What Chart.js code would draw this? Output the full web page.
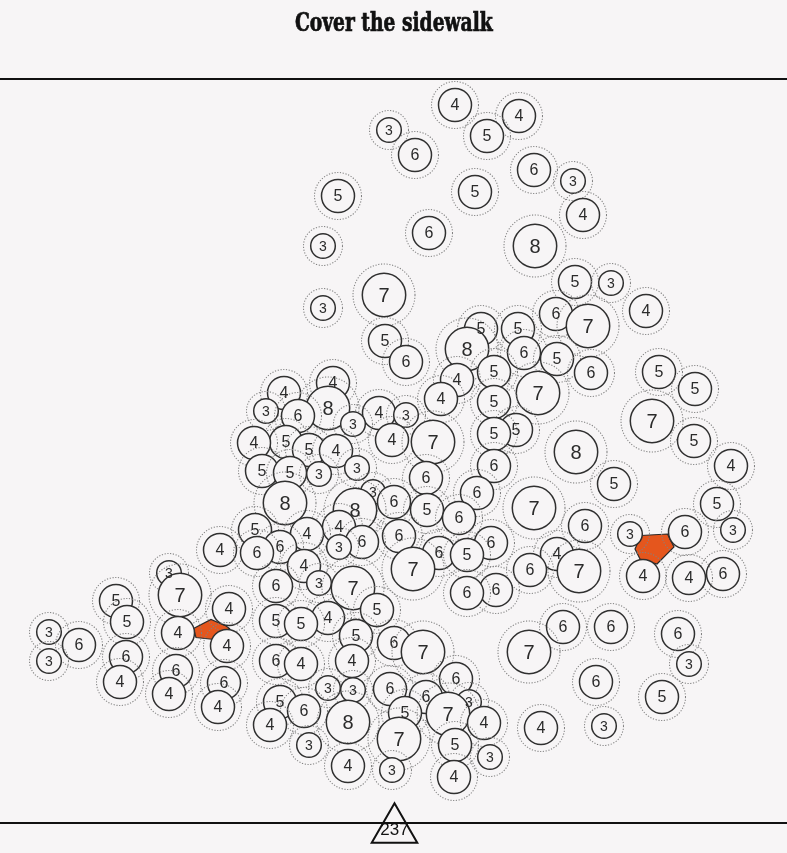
<!DOCTYPE html>
<html><head><meta charset="utf-8">
<script src="https://cdn.jsdelivr.net/npm/chart.js@4.4.1/dist/chart.umd.min.js"></script>
<style>
html,body{margin:0;padding:0;background:#f7f5f6;}
#wrap{position:relative;width:787px;height:853px;}
canvas{display:block;position:absolute;left:0;top:0;}
#title{position:absolute;left:0;top:0;width:787px;height:44px;text-align:center;}
#title span{display:inline-block;font-family:"DejaVu Serif Condensed","DejaVu Serif",serif;font-weight:bold;font-size:26px;line-height:44px;color:#111;-webkit-text-stroke:0.7px #111;transform-origin:50% 50%;}
</style>
</head><body>
<div id="wrap">
<canvas id="c" width="787" height="853"></canvas>
<div id="title"><span id="tt"></span></div>
</div>
<script>
const titleText = 'Cover the sidewalk';
const circleValues = [4,4,3,5,6,6,3,5,5,4,6,3,8,5,3,7,3,4,6,7,5,5,5,8,6,5,6,5,5,6,4,4,5,4,7,4,5,8,3,4,3,6,7,3,5,5,4,5,5,7,4,5,4,8,4,6,3,5,5,3,6,5,3,6,6,8,5,7,8,5,6,4,5,3,6,3,4,6,6,6,6,6,3,4,6,6,4,5,4,7,6,7,3,6,4,4,3,6,7,6,6,7,5,4,5,4,5,5,5,6,6,3,4,6,5,6,6,4,7,7,6,6,4,3,3,4,6,6,4,6,6,3,6,3,4,6,5,5,3,4,6,5,7,8,4,4,3,4,7,5,3,3,4,3,4];
const circleX = [455,519,389,487,415,534,573,475,338,583,429,323,535,575,611,384,323,646,556,588,481,518,385,467,524,557,406,659,494,591,457,333,695,284,538,441,494,328,266,379,406,298,652,353,516,494,392,694,286,433,254,309,336,576,731,494,357,262,290,319,426,614,373,477,394,285,717,534,355,427,459,339,255,733,685,630,307,585,399,362,491,280,339,220,257,439,557,467,304,413,530,579,169,723,643,689,319,276,353,496,467,180,116,229,377,328,276,127,301,611,563,49,178,678,356,394,79,227,423,529,126,276,352,49,689,301,456,176,120,596,224,328,390,353,169,426,662,280,469,218,304,405,448,348,484,270,604,541,399,455,309,490,348,392,454];
const circleY = [105,116,130,136,155,170,181,192,196,215,233,246,246,282,283,295,308,311,314,326,329,329,341,349,353,359,362,372,372,373,380,383,389,393,393,399,402,408,411,413,415,416,421,424,430,434,440,441,442,442,443,450,451,452,466,466,468,471,473,474,478,484,492,493,502,503,504,508,510,510,518,527,530,530,532,534,534,526,536,542,543,547,547,550,553,553,554,555,566,569,570,571,573,574,576,578,583,586,588,590,593,595,601,609,610,618,621,622,624,627,627,632,633,634,636,643,645,646,652,652,657,661,661,661,664,664,679,671,682,682,683,688,689,690,694,697,697,702,702,707,711,713,714,722,723,725,726,728,739,745,745,757,766,770,777];
const patchAX = [641,667.5,674,657,640,635,641];
const patchAY = [535.5,534,547,564,559,549,535.5];
const patchBX = [193.5,211,226,229.5,214,196,193.5];
const patchBY = [628.5,619.5,626,628.5,639.5,637.5,628.5];
const markerX = [394.5];
const markerY = [829.6];
const markerLabels = ['237'];

const BG = '#f7f5f6';
const INK = '#303030';
const innerR = [12.3, 16.5, 21.7];
const ringR = [19.5, 23.5, 31];
const labelSize = [14, 16, 20];
function cls(v){ return v <= 3 ? 0 : (v <= 6 ? 1 : 2); }
function makeRing(R){
  const s = 2*Math.ceil(R+2);
  const c = document.createElement('canvas'); c.width = s; c.height = s;
  const g = c.getContext('2d');
  g.setLineDash([1.2,1.6]); g.strokeStyle = '#828282'; g.lineWidth = 1.05;
  g.beginPath(); g.arc(s/2, s/2, R, 0, Math.PI*2); g.stroke();
  return c;
}
const ringSprites = ringR.map(makeRing);

// title as real text, fitted to the reference width
const tt = document.getElementById('tt');
tt.textContent = titleText;
const tw = tt.getBoundingClientRect().width;
tt.style.transform = 'scaleX(' + (198 / tw).toFixed(3) + ')';

const marks = [];
circleValues.forEach((v,i)=>{
  marks.push({x: circleX[i], y: circleY[i], v: v, kind: 'ring'});
  marks.push({x: circleX[i], y: circleY[i], v: v, kind: 'disc'});
});
const patchA = patchAX.map((x,i)=>({x:x, y:patchAY[i]}));
const patchB = patchBX.map((x,i)=>({x:x, y:patchBY[i]}));
const marker = markerX.map((x,i)=>({x:x, y:markerY[i], label: markerLabels[i]}));

const labelPlugin = {
  id: 'markLabels',
  afterDatasetsDraw(chart){
    const ctx = chart.ctx;
    ctx.save();
    ctx.textAlign = 'center'; ctx.textBaseline = 'middle';
    const meta = chart.getDatasetMeta(2);
    const data = chart.data.datasets[2].data;
    ctx.fillStyle = '#2b2b2b';
    meta.data.forEach((el,i)=>{
      const d = data[i];
      if (d.kind !== 'disc') return;
      ctx.font = labelSize[cls(d.v)] + 'px "Liberation Sans", Arial, sans-serif';
      ctx.fillText(String(d.v), el.x, el.y + 1);
    });
    const tm = chart.getDatasetMeta(3);
    ctx.fillStyle = '#111';
    ctx.font = '17px "Liberation Sans", Arial, sans-serif';
    tm.data.forEach((el,i)=>{
      ctx.fillText(chart.data.datasets[3].data[i].label, el.x, el.y + 1);
    });
    ctx.restore();
  }
};

const axisCommon = {type:'linear', min:0, max:787, display:true,
  grid:{display:false, drawTicks:false}, ticks:{display:false},
  border:{display:true, color:'#111', width:2}};

new Chart(document.getElementById('c'), {
  type: 'scatter',
  data: { datasets: [
    {data: patchA, showLine:true, fill:'shape', tension:0, backgroundColor:'#e5561d', borderColor:'#2a2a2a', borderWidth:1.2, pointRadius:0, order:3, clip:false},
    {data: patchB, showLine:true, fill:'shape', tension:0, backgroundColor:'#e5561d', borderColor:'#2a2a2a', borderWidth:1.2, pointRadius:0, order:3, clip:false},
    {data: marks, order:2, clip:false,
      pointStyle: c => c.raw && c.raw.kind === 'ring' ? ringSprites[cls(c.raw.v)] : 'circle',
      pointRadius: c => c.raw ? (c.raw.kind === 'ring' ? ringR[cls(c.raw.v)] : innerR[cls(c.raw.v)]) : 10,
      pointHoverRadius: c => c.raw ? (c.raw.kind === 'ring' ? ringR[cls(c.raw.v)] : innerR[cls(c.raw.v)]) : 10,
      backgroundColor: c => c.raw && c.raw.kind === 'ring' ? 'rgba(0,0,0,0)' : BG,
      borderColor: INK,
      borderWidth: c => c.raw && c.raw.kind === 'ring' ? 0 : 1.5
    },
    {data: marker, order:1, clip:false, pointStyle:'triangle', pointRadius:26.3, pointHoverRadius:26.3,
      backgroundColor:'rgba(0,0,0,0)', borderColor:'#111', borderWidth:2}
  ]},
  options: {
    responsive:false, animation:false, events:[],
    layout:{autoPadding:false, padding:{top:79,bottom:30,left:0,right:0}},
    plugins:{ legend:{display:false}, tooltip:{enabled:false}, title:{display:false} },
    scales:{
      x: Object.assign({}, axisCommon, {position:'bottom'}),
      xTop: Object.assign({}, axisCommon, {position:'top'}),
      y: {type:'linear', min:79, max:823, reverse:true, display:false}
    }
  },
  plugins:[labelPlugin]
});
</script>
</body></html>
